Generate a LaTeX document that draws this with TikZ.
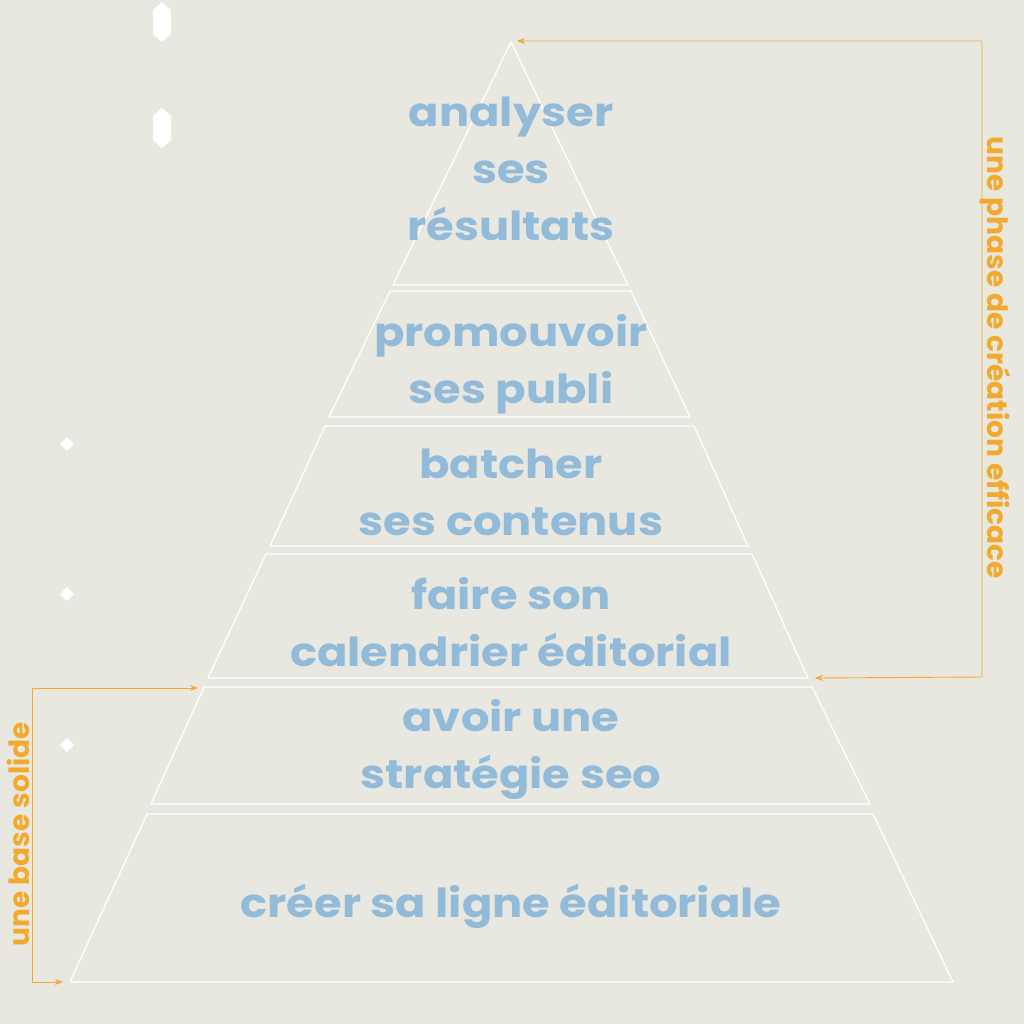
\documentclass[tikz,border=0pt]{standalone}
\usepackage{fontspec}
\usetikzlibrary{arrows.meta}
\setmainfont{Poppins}
\newfontfamily\layerfont{Poppins}[FakeStretch=1.12]
\tikzset{>={Stealth[length=8pt,width=6pt]}}
\definecolor{paper}{HTML}{E8E8E0}
\definecolor{skyblue}{HTML}{92BAD9}
\definecolor{amber}{HTML}{F2AA2E}
\tikzset{layer/.style={draw=white, line width=1.3pt, line join=round}}
\tikzset{layertext/.style={text=skyblue, font=\layerfont\bfseries\fontsize{40}{57}\selectfont, align=center}}
\tikzset{sidetext/.style={text=amber, font=\bfseries\fontsize{28}{28}\selectfont}}
\tikzset{guide/.style={draw=amber, line width=0.9pt, <->}}

\begin{document}
\begin{tikzpicture}[x=1pt, y=-1pt]
    \fill [paper] (0,0) rectangle (1024,1024);
    \useasboundingbox (0,0) rectangle (1024,1024);
    % pyramid layers, top to bottom
    \coordinate (apex) at (511,42);
    \draw [layer] (apex) -- (628,285) -- (393,285) -- cycle;
    \draw [layer] (390,291) -- (631,291) -- (690,417) -- (329,417) -- cycle;
    \draw [layer] (325,426) -- (694,426) -- (748,546) -- (270,546) -- cycle;
    \draw [layer] (266,554) -- (752,554) -- (808,678) -- (208,678) -- cycle;
    \coordinate (A) at (206,688);
    \coordinate (B) at (810,678);
    \draw [layer] (204,687) -- (812,687) -- (870,804) -- (151,804) -- cycle;
    \draw [layer] (147,814) -- (873,814) -- (953,982) -- (70,982) -- cycle;
    \coordinate (C) at (70,982);
    % layer texts
    \node [layertext] (results) at (511,169) {analyser\\ses\\résultats};
    \node [layertext] (promote) at (511,364) {promouvoir\\ses publi};
    \node [layertext] (batch) at (511,492) {batcher\\ses contenus};
    \node [layertext] (calendar) at (511,622) {faire son\\calendrier éditorial};
    \node [layertext] (seo) at (511,749) {avoir une\\stratégie seo};
    \node [layertext] (line) at (511,906) {créer sa ligne éditoriale};
    % brackets
    \draw [guide] ([xshift=6pt]apex |- 0,41) -- (982,41) -- (982,677) -- ([xshift=5pt]B);
    \draw [guide] ([xshift=-8pt]A) -- (32,688) -- (32,982) -- ([xshift=-7pt]C);
    \node [sidetext, rotate=-90] (phase) at (995,358) {une phase de création efficace};
    \node [sidetext, rotate=90] (base) at (18,834) {une base solide};
    % white marks
    \foreach \y in {444,594,745}
        \fill [white, shift={(67,\y)}] (-7,0) -- (0,-7) -- (7,0) -- (0,7) -- cycle;
    \foreach \y in {22,128}
        \fill [white, shift={(162,\y)}] (0,-20) -- (9,-12) -- (9,12) -- (0,20) -- (-9,12) -- (-9,-12) -- cycle;
\end{tikzpicture}
\end{document}
